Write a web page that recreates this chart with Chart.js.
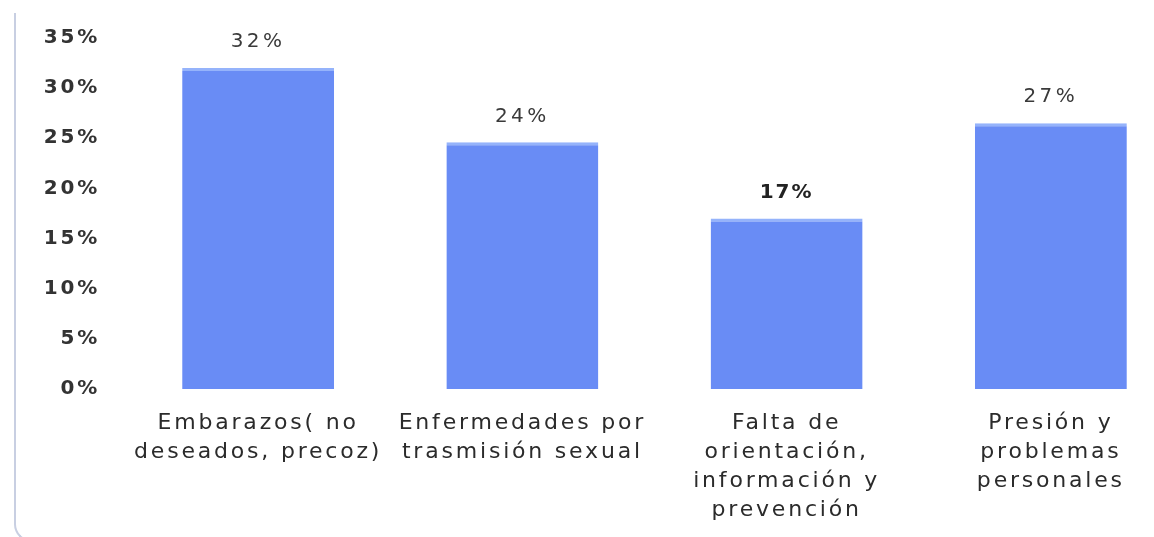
<!DOCTYPE html>
<html>
<head>
<meta charset="utf-8">
<script src="https://cdn.jsdelivr.net/npm/chart.js@4.4.1/dist/chart.umd.min.js"></script>
<style>
  html, body { margin: 0; padding: 0; background: #fff; overflow: hidden; }
  #wrap { position: relative; width: 1183px; height: 537px; }
  #frame { position: absolute; left: 14px; top: 13px; width: 1400px; height: 527px;
           border: none; border-left: 2px solid #c8cfe2; border-bottom: 2px solid #c8cfe2;
           border-bottom-left-radius: 18px; }
  canvas { position: absolute; left: 0; top: 0; }
</style>
</head>
<body>
<div id="wrap">
  <div id="frame"></div>
  <canvas id="chart" width="1183" height="537"></canvas>
</div>
<script>
// data
const categories = [
  ['Embarazos( no', 'deseados, precoz)'],
  ['Enfermedades por', 'trasmisión sexual'],
  ['Falta de', 'orientación,', 'información y', 'prevención'],
  ['Presión y', 'problemas', 'personales']
];
const values = [32, 24.6, 17, 26.5];
const valueLabels = ['32%', '24%', '17%', '27%'];
const yMin = 0;
const yMax = 35;
const yStep = 5;

// only the 17% label is bold in the original
const boldLabels = [false, false, true, false];

const barColor = '#698cf5';
const barTop = '#95b3fb';

// wider letters like the scanned original
const spacingPlugin = {
  id: 'spacing',
  beforeUpdate(chart) { chart.ctx.letterSpacing = '2.8px'; },
  beforeDraw(chart) { chart.ctx.letterSpacing = '2.8px'; }
};

const valueLabelPlugin = {
  id: 'valueLabels',
  afterDatasetsDraw(chart) {
    const ctx = chart.ctx;
    const meta = chart.getDatasetMeta(0);
    meta.data.forEach((bar, i) => {
      ctx.save();
      ctx.font = (boldLabels[i] ? 'bold ' : '') + '20px "DejaVu Sans"';
      ctx.letterSpacing = boldLabels[i] ? '2px' : '3.5px';
      ctx.fillStyle = boldLabels[i] ? '#222' : '#3a3a3a';
      ctx.textAlign = 'center';
      ctx.textBaseline = 'middle';
      ctx.fillText(valueLabels[i], bar.x, bar.y - 26);
      ctx.restore();
    });
  }
};

new Chart(document.getElementById('chart'), {
  type: 'bar',
  data: {
    labels: categories,
    datasets: [{
      data: values,
      backgroundColor: barColor,
      borderColor: barTop,
      borderWidth: { top: 3, left: 0, right: 0, bottom: 0 },
      borderSkipped: 'start',
      categoryPercentage: 1,
      barPercentage: 0.575
    }]
  },
  options: {
    responsive: false,
    animation: false,
    devicePixelRatio: 1,
    layout: { padding: { top: 32, right: 0, bottom: 0, left: 0 } },
    plugins: {
      legend: { display: false },
      tooltip: { enabled: false }
    },
    scales: {
      x: {
        grid: { display: false, drawTicks: false },
        border: { display: false },
        ticks: {
          padding: 20,
          color: '#2b2b2b',
          font: { family: 'DejaVu Sans', size: 22, lineHeight: 1.32 },
          maxRotation: 0,
          autoSkip: false
        },
        afterFit: s => { s.height = 148; }
      },
      y: {
        min: yMin,
        max: yMax,
        grid: { display: false, drawTicks: false },
        border: { display: false },
        ticks: {
          stepSize: yStep,
          padding: 26,
          color: '#333',
          font: { family: 'DejaVu Sans', size: 20, weight: 'bold' },
          callback: v => v + '%'
        },
        afterFit: s => { s.width = 126; }
      }
    }
  },
  plugins: [spacingPlugin, valueLabelPlugin]
});
</script>
</body>
</html>
